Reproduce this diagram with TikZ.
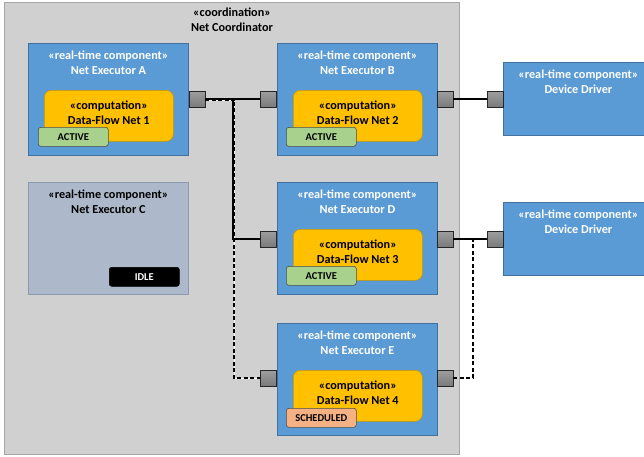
\documentclass[tikz,border=0pt]{standalone}
\usepackage{fontspec}
\setmainfont{Carlito}
\usetikzlibrary{calc}
\definecolor{coordfill}{HTML}{D0D0D0}
\definecolor{coordline}{HTML}{A6A6A6}
\definecolor{compblue}{HTML}{5B9BD5}
\definecolor{compline}{HTML}{41719C}
\definecolor{idlefill}{HTML}{ADB9CA}
\definecolor{idleline}{HTML}{8C9AAE}
\definecolor{netyellow}{HTML}{FFC000}
\definecolor{netline}{HTML}{C89600}
\definecolor{activegreen}{HTML}{A9D18E}
\definecolor{schedsalmon}{HTML}{F4B183}
\definecolor{portgray}{HTML}{8E8E8E}
\tikzset{
  box/.style={rectangle, inner sep=0pt, anchor=north west},
  coordbox/.style={box, fill=coordfill, draw=coordline, line width=0.8pt},
  exec/.style={box, fill=compblue, draw=compline, line width=0.8pt,
    minimum width=160pt, minimum height=112pt},
  idlebox/.style={box, fill=idlefill, draw=idleline, line width=0.8pt,
    minimum width=160pt, minimum height=112pt},
  driver/.style={box, fill=compblue, draw=compline, line width=0.8pt,
    minimum width=150pt, minimum height=73pt},
  net/.style={box, fill=netyellow, draw=netline, line width=0.6pt,
    rounded corners=7pt, minimum width=129pt, minimum height=51pt},
  badge/.style={box, draw=black!70, line width=0.6pt, rounded corners=2.5pt,
    minimum width=70pt, minimum height=19pt, font=\fontsize{10.5}{11}\selectfont\bfseries},
  port/.style={rectangle, inner sep=0pt, minimum size=16pt, fill=portgray,
    top color=black!38, bottom color=black!52, draw=black!85, line width=0.8pt},
  hdr/.style={align=center, inner sep=0pt, font=\fontsize{12.2}{15}\selectfont\bfseries},
  conn/.style={draw=black, line width=1.3pt},
  dconn/.style={draw=black, line width=1.3pt, dash pattern=on 4pt off 2.5pt},
}
\begin{document}
\begin{tikzpicture}[x=1pt, y=-1pt]
\useasboundingbox (0,0) rectangle (644,456);

% coordinator frame
\node[coordbox, minimum width=455pt, minimum height=452pt] (coord) at (4,2) {};
\node[hdr, text=black] (coordtitle) at (232,20) {«coordination»\\Net Coordinator};

% executors
\node[exec] (exA) at (28,43) {};
\node[exec] (exB) at (277,43) {};
\node[idlebox] (exC) at (28,182) {};
\node[exec] (exD) at (277,182) {};
\node[exec] (exE) at (277,323) {};

\node[hdr, text=white] (tA) at ($(exA.north)+(0,20)$) {«real-time component»\\Net Executor A};
\node[hdr, text=white] (tB) at ($(exB.north)+(0,20)$) {«real-time component»\\Net Executor B};
\node[hdr, text=black] (tC) at ($(exC.north)+(0,20)$) {«real-time component»\\Net Executor C};
\node[hdr, text=white] (tD) at ($(exD.north)+(0,20)$) {«real-time component»\\Net Executor D};
\node[hdr, text=white] (tE) at ($(exE.north)+(0,20)$) {«real-time component»\\Net Executor E};

% data-flow nets
\node[net] (n1) at (44,90) {};
\node[net] (n2) at (293,90) {};
\node[net] (n3) at (293,229) {};
\node[net] (n4) at (293,370) {};
\node[hdr] (tn1) at ($(n1.center)+(0,-3)$) {«computation»\\Data-Flow Net 1};
\node[hdr] (tn2) at ($(n2.center)+(0,-3)$) {«computation»\\Data-Flow Net 2};
\node[hdr] (tn3) at ($(n3.center)+(0,-3)$) {«computation»\\Data-Flow Net 3};
\node[hdr] (tn4) at ($(n4.center)+(0,-3)$) {«computation»\\Data-Flow Net 4};

% state badges
\node[badge, fill=activegreen] (bA) at (38,127) {ACTIVE};
\node[badge, fill=activegreen] (bB) at (286,127) {ACTIVE};
\node[badge, fill=activegreen] (bD) at (286,266) {ACTIVE};
\node[badge, fill=schedsalmon] (bE) at (286,408) {SCHEDULED};
\node[badge, fill=black, draw=black, text=white] (bC) at (109,267) {IDLE};

% device drivers
\node[driver] (drv1) at (503,62) {};
\node[driver] (drv2) at (503,202) {};
\node[hdr, text=white] (td1) at ($(drv1.north)+(0,20)$) {«real-time component»\\Device Driver};
\node[hdr, text=white] (td2) at ($(drv2.north)+(0,20)$) {«real-time component»\\Device Driver};

% ports
\node[port] (pA)  at (197,99) {};
\node[port] (pBl) at (268.5,99) {};
\node[port] (pBr) at (445,99) {};
\node[port] (pV1) at (495,99) {};
\node[port] (pDl) at (268.5,239) {};
\node[port] (pDr) at (445,239) {};
\node[port] (pV2) at (495,239) {};
\node[port] (pEl) at (268.5,378) {};
\node[port] (pEr) at (445,378) {};

\coordinate (jL) at (233,99);
\coordinate (jR) at (473,239);

% active links
\draw[conn] (pA.east) -- (pBl.west);
\draw[conn] (pA.east) -- (jL) |- (pDl.west);
\draw[conn] (pBr.east) -- (pV1.west);
\draw[conn] (pDr.east) -- (pV2.west);

% scheduled links
\draw[dconn, preaction={draw=white, line width=1pt, solid}] ($(pA.east)+(0,1)$) -| ($(jL)+(1,0)$) |- (pEl.west);
\draw[dconn] (pEr.east) -| (jR) -- (pV2.west);
\end{tikzpicture}
\end{document}
